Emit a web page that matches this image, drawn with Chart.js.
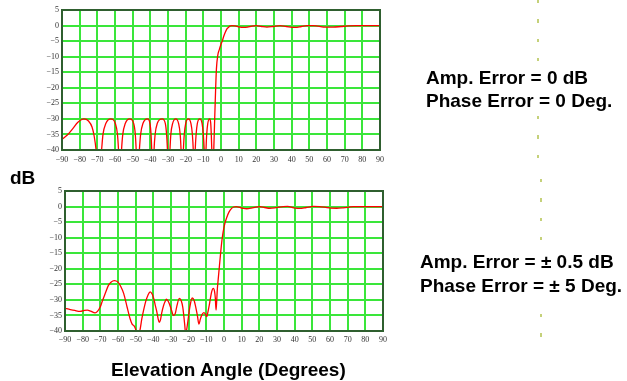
<!DOCTYPE html>
<html>
<head>
<meta charset="utf-8">
<script src="https://cdn.jsdelivr.net/npm/chart.js@4/dist/chart.umd.min.js"></script>
<style>
  html, body { margin: 0; padding: 0; background: #fff; }
  #wrap { position: relative; width: 627px; height: 381px; overflow: hidden; background: #fff; }
  canvas { position: absolute; left: 0; }
  .lbl { position: absolute; font-family: "Liberation Sans", Arial, sans-serif; font-weight: bold;
         font-size: 19px; line-height: 19px; color: #000; white-space: nowrap; }
  .dash { position: absolute; width: 2px;
          background: repeating-linear-gradient(to bottom, #c5d17a 0px, #c5d17a 3.5px, transparent 3.5px, transparent 19.3px); }
</style>
</head>
<body>
<div id="wrap">
  <canvas id="c1" width="627" height="175" style="top:0px"></canvas>
  <canvas id="c2" width="627" height="211" style="top:170px"></canvas>

  <div class="dash" style="left:537px; top:0px; height:62px"></div>
  <div class="dash" style="left:537px; top:115.8px; height:42px"></div>
  <div class="dash" style="left:540px; top:179px; height:62px"></div>
  <div class="dash" style="left:540px; top:314px; height:24px"></div>

  <div class="lbl" style="left:426px; top:68px">Amp. Error = 0 dB</div>
  <div class="lbl" style="left:426px; top:91px">Phase Error = 0 Deg.</div>
  <div class="lbl" style="left:420px; top:252px">Amp. Error = ± 0.5 dB</div>
  <div class="lbl" style="left:420px; top:275.5px">Phase Error = ± 5 Deg.</div>
  <div class="lbl" style="left:10px; top:168px">dB</div>
  <div class="lbl" style="left:111px; top:360px">Elevation Angle (Degrees)</div>
</div>

<script>
// ---- Data ----
const xTicks = [-90, -80, -70, -60, -50, -40, -30, -20, -10, 0, 10, 20, 30, 40, 50, 60, 70, 80, 90];
const yTicks = [5, 0, -5, -10, -15, -20, -25, -30, -35, -40];

// Top panel: Amp. Error = 0 dB, Phase Error = 0 Deg.
const topAngles = [
  -90, -87, -84, -81, -77.6, -75, -73, -71.8, -70.7, -69.2,
  -67.6, -66.8, -65.2, -62.4, -59.8, -58.6, -58.0, -57.2,
  -56.3, -55.6, -54.2, -51.6, -49.4, -48.5, -48.0, -47.2,
  -46.2, -45.5, -44.2, -41.6, -40.2, -39.6, -39.2, -38.5,
  -37.9, -37.3, -36.1, -33.3, -31.5, -30.8, -30.3, -29.6,
  -28.9, -28.4, -27.4, -25.6, -24.0, -23.1, -22.6, -22.0,
  -21.3, -20.8, -20.0, -18.5, -17.0, -16.2, -15.7, -15.2,
  -14.6, -14.1, -13.4, -12.0, -10.7, -10.0, -9.5, -9.0,
  -8.5, -8.1, -7.5, -6.4, -5.8, -5.5, -5.2, -4.8,
  -4.1, -3.3, -2.6, -1.8, -1.0, 0, 0.7, 1.5, 2.3, 3.2, 4.2, 5.0, 6.0,
  8, 10, 12.6, 15, 17.5, 20, 23, 26, 29.5, 33.4, 37, 42, 45.5, 48.5,
  52, 55, 59, 63.6, 68, 72, 76.8, 80, 85, 90
];
const topGain = [
  -36.6, -35.2, -33.2, -31.1, -30, -30.7, -32.6, -35.5, -40, -50,
  -40, -35, -31.5, -30, -31.5, -35, -40, -50,
  -40, -35, -31.5, -30, -31.5, -35, -40, -50,
  -40, -35, -31.5, -30, -31.5, -35, -40, -50,
  -40, -35, -31.5, -30, -31.5, -35, -40, -50,
  -40, -35, -31.5, -30, -31.5, -35, -40, -50,
  -40, -35, -31.5, -30, -31.5, -35, -40, -50,
  -40, -35, -31.5, -30, -31.5, -35, -40, -50,
  -40, -35, -31.5, -30, -31.5, -35, -40, -50,
  -40, -25, -14, -9.5, -7.8, -6.0, -5.0, -3.5, -2.3, -1.2, -0.6, -0.2, 0,
  -0.1, -0.4, -0.6, -0.5, -0.15, 0, -0.3, -0.5, -0.3, 0, -0.3, -0.6, -0.3, 0,
  0, -0.2, -0.5, -0.5, -0.3, -0.1, 0, 0, 0, 0
];

// Bottom panel: Amp. Error = ±0.5 dB, Phase Error = ±5 Deg.
const botAngles = [
  -90, -87, -84.5, -81.5, -79, -77.3, -75.5, -73, -71.5, -70, -69, -67.2, -65.5, -64, -62,
  -60, -58.5, -56.8, -54.9, -53.2, -52, -51, -50, -49.3, -48.3, -47.4, -46.5, -45.5, -44.3,
  -43, -41.8, -40.6, -39.8, -38.8, -38.1, -37.3, -36.7, -36.0, -35.3, -34.2, -33.4, -32.6,
  -31.5, -30.6, -29.5, -28.8, -28.3, -27.5, -26.8, -25.3, -24.2, -23.3, -22.7, -22.2, -21.7,
  -21.1, -20.6, -19.3, -18.0, -16.9, -16.0, -15.1, -14.2, -13.4, -12.6, -11.4, -10.5, -9.8,
  -9.2, -8.5, -7.6, -7.0, -6.1, -5.3, -4.9, -4.5, -4.1, -3.8, -3.3, -2.8, -2.0, -1.2, -0.5,
  0.5, 1.5, 2.8, 4.3, 5.5, 7, 9, 11, 12.8, 15.5, 18, 20.4, 23, 26, 29.5, 33.5, 36, 39.5,
  43, 46.5, 50.5, 54, 57, 60.5, 63.8, 67.5, 70.5, 73.2, 80, 85, 90
];
const botGain = [
  -32.7, -33.1, -33.4, -33.7, -33.4, -33.3, -33.6, -34.2, -33.6, -32.2, -30.6, -27.9, -25.4, -24.3, -23.8,
  -24.3, -25.6, -27.9, -32.2, -36.0, -37.8, -38.3, -39.5, -41.5, -41.0, -39.2, -36.0, -33.3, -30.5,
  -28.4, -27.4, -28.2, -29.5, -32.0, -33.6, -36.0, -37.2, -36.5, -34.3, -31.8, -30.6, -29.8,
  -30.5, -31.8, -33.7, -34.9, -35.0, -34.2, -32.3, -29.5, -30.3, -32.5, -35.4, -38.2, -41.0,
  -39.5, -37.5, -32.2, -29.4, -30.2, -32.3, -34.9, -37.8, -36.2, -34.9, -34.1, -34.6, -35.4,
  -34.2, -32.2, -29.2, -27.4, -26.3, -27.4, -29.5, -33.3, -30.0, -26.8, -23.5, -20.4, -15.5, -11.0, -8.2,
  -5.4, -3.6, -1.8, -0.6, -0.15, 0, -0.3, -0.6, -0.7, -0.5, -0.15, 0, -0.3, -0.55, -0.35, 0, 0.05, -0.4,
  -0.6, -0.3, 0.05, 0, -0.2, -0.5, -0.55, -0.4, -0.2, 0, 0, 0, 0
];

// ---- Chart setup ----
const fmt = v => (v < 0 ? '\u2212' + Math.abs(v) : String(v));
const tickFont = { family: "'Liberation Serif', 'Times New Roman', serif", size: 8 };

const framePlugin = {
  id: 'frame',
  afterDatasetsDraw(chart) {
    const { ctx, chartArea: a } = chart;
    ctx.save();
    ctx.strokeStyle = '#2f5f2f';
    ctx.lineWidth = 2;
    ctx.strokeRect(a.left, a.top, a.right - a.left, a.bottom - a.top);
    ctx.restore();
  }
};

function makeChart(id, angles, gain, pad, yWidth, xHeight, xPad) {
  const pts = angles.map((a, i) => ({ x: a, y: gain[i] }));
  return new Chart(document.getElementById(id), {
    type: 'line',
    data: {
      datasets: [{
        data: pts,
        borderColor: '#ff0000',
        borderWidth: 1.3,
        pointRadius: 0,
        fill: false,
        cubicInterpolationMode: 'monotone',
        clip: 0
      }]
    },
    options: {
      responsive: false,
      animation: false,
      events: [],
      layout: { padding: pad, autoPadding: false },
      plugins: { legend: { display: false }, tooltip: { enabled: false } },
      scales: {
        x: {
          type: 'linear', min: -90, max: 90,
          afterBuildTicks: s => { s.ticks = xTicks.map(v => ({ value: v })); },
          afterFit: s => { s.height = xHeight; },
          grid: { color: '#3ae63a', lineWidth: 2, drawTicks: false },
          border: { display: false },
          ticks: { font: tickFont, color: '#333', padding: xPad, maxRotation: 0, autoSkip: false, callback: fmt }
        },
        y: {
          type: 'linear', min: -40, max: 5,
          afterBuildTicks: s => { s.ticks = yTicks.map(v => ({ value: v })); },
          afterFit: s => { s.width = yWidth; },
          grid: { color: '#3ae63a', lineWidth: 2, drawTicks: false },
          border: { display: false },
          ticks: { font: tickFont, color: '#333', padding: 3, autoSkip: false, callback: fmt }
        }
      }
    },
    plugins: [framePlugin]
  });
}

// Top chart area: x 62..380, y 10..150 (canvas 627x175 at top 0)
makeChart('c1', topAngles, topGain, { left: 0, top: 10, right: 247, bottom: 0 }, 62, 25, 5);
// Bottom chart area: x 65..383, y 191..331 (canvas 627x211 at top 170)
makeChart('c2', botAngles, botGain, { left: 0, top: 21, right: 244, bottom: 25 }, 65, 25, 4);
</script>
</body>
</html>
